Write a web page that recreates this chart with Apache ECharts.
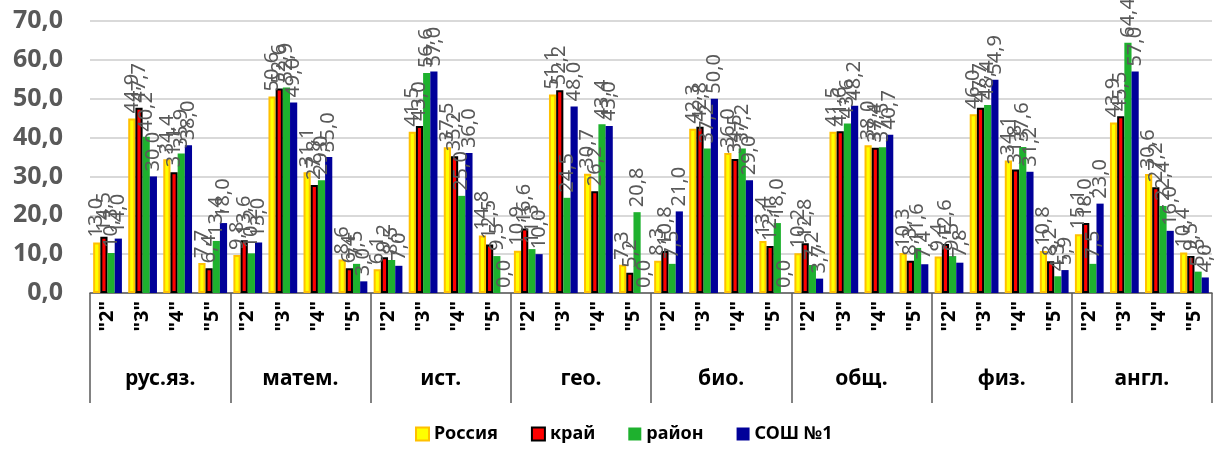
<!DOCTYPE html>
<html>
<head>
<meta charset="utf-8">
<script src="https://cdn.jsdelivr.net/npm/echarts@6/dist/echarts.min.js"></script>
<style>
html,body{margin:0;padding:0;background:#fff;}
#c{width:1219px;height:450px;}
</style>
</head>
<body>
<div id="c"></div>
<script>
const subjects = ['рус.яз.','матем.','ист.','гео.','био.','общ.','физ.','англ.'];
const grades = ['"2"','"3"','"4"','"5"'];
const seriesNames = ['Россия','край','район','СОШ №1'];
const russia = [13.0,44.9,34.4,7.7, 9.8,50.6,31.1,8.6, 6.1,41.5,37.5,14.8, 10.9,51.1,30.7,7.3, 8.3,42.3,36.0,13.4, 10.2,41.5,38.0,10.3, 9.4,46.0,34.1,10.8, 15.1,43.9,30.6,10.4];
const kray   = [14.5,47.7,31.1,6.4, 13.6,52.6,27.8,6.4, 9.2,43.0,35.2,12.5, 16.6,52.2,26.2,5.2, 10.8,42.8,34.5,12.1, 12.8,41.6,37.4,8.3, 12.6,47.7,31.8,8.2, 18.0,45.5,27.2,9.5];
const rayon  = [10.3,40.2,35.9,13.4, 10.2,52.9,29.0,7.5, 8.5,56.6,25.0,9.5, 11.3,24.5,43.4,20.8, 7.5,37.2,37.2,18.0, 7.2,43.6,37.5,11.6, 9.5,48.4,37.6,4.3, 7.5,64.4,22.4,5.5];
const school = [14.0,30.0,38.0,18.0, 13.0,49.0,35.0,3.0, 7.0,57.0,36.0,0.0, 10.0,48.0,43.0,0.0, 21.0,50.0,29.0,0.0, 3.7,48.2,40.7,7.4, 7.8,54.9,31.2,5.9, 23.0,57.0,16.0,4.0];

const FONT = 'Noto Sans';
const gradeCats = [];
subjects.forEach(() => grades.forEach(g => gradeCats.push(g)));
const fmt = v => Number(v).toFixed(1).replace('.', ',');

const styles = [
  {color:'#FFFF00', borderColor:'#FFC000', borderWidth:2},
  {color:'#FF0000', borderColor:'#000000', borderWidth:2},
  {color:'#1EB12E'},
  {color:'#000099'}
];
const dataSets = [russia, kray, rayon, school];

const chart = echarts.init(document.getElementById('c'), null, {renderer:'canvas'});
chart.setOption({
  animation:false,
  textStyle:{fontFamily:FONT},
  grid:{left:90, right:7, top:21, bottom:157, containLabel:false},
  legend:{
    bottom:2, left:410, itemWidth:13, itemHeight:13, itemGap:33,
    icon:'rect',
    textStyle:{fontFamily:FONT, fontSize:18, fontWeight:'bold', color:'#000'},
    data:seriesNames
  },
  xAxis:[
    {
      type:'category', data:gradeCats, position:'bottom',
      axisLine:{show:true, lineStyle:{color:'#595959', width:1.5}},
      axisTick:{show:false},
      axisLabel:{interval:0, rotate:90, margin:8, fontFamily:FONT, fontSize:20, fontWeight:'bold', color:'#000'},
      splitLine:{show:false}
    },
    {
      type:'category', data:subjects, position:'bottom',
      axisLine:{show:false},
      axisTick:{show:true, length:110, interval:0, alignWithLabel:false, lineStyle:{color:'#595959', width:1.5}},
      axisLabel:{interval:0, margin:76, fontFamily:FONT, fontSize:21, fontWeight:'bold', color:'#000'},
      splitLine:{show:false}
    }
  ],
  yAxis:{
    type:'value', min:0, max:70, interval:10,
    axisLine:{show:false}, axisTick:{show:false},
    axisLabel:{formatter:fmt, margin:27, fontFamily:FONT, fontSize:25, fontWeight:'bold', color:'#595959'},
    splitLine:{show:true, lineStyle:{color:'#D9D9D9', width:2}}
  },
  series: seriesNames.map((n,i) => ({
    name:n, type:'bar', xAxisIndex:0, data:dataSets[i],
    barGap:'0%', barCategoryGap:'18%',
    itemStyle:styles[i],
    label:{show:true, position:'top', rotate:90, align:'left', verticalAlign:'middle', distance:5,
      formatter:p => fmt(p.value), fontFamily:FONT, fontSize:20, color:'#595959'}
  }))
});
</script>
</body>
</html>
